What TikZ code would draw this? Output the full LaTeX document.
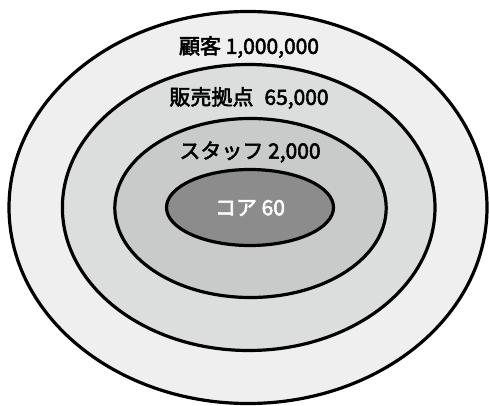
\documentclass[tikz,border=0pt]{standalone}
\usepackage{fontspec}
\setmainfont{Noto Sans CJK JP}
\newcommand{\heavytxt}[1]{\special{pdf:literal direct 2 Tr 0.55 w}#1\special{pdf:literal direct 0 Tr}}
\begin{document}
\begin{tikzpicture}[x=1pt,y=-1pt,
  ring/.style={draw=black,line width=3.2pt},
  lbl/.style={font=\fontsize{21}{25}\selectfont,inner sep=0pt}]
\useasboundingbox (0,0) rectangle (489,406);
\fill[white] (0,0) rectangle (489,406);
\path[ring,fill={rgb,255:red,239;green,239;blue,239}] (248,207.5) ellipse [x radius=239,y radius=196];
\path[ring,fill={rgb,255:red,220;green,221;blue,221}] (248.7,207.5) ellipse [x radius=186.3,y radius=143];
\path[ring,fill={rgb,255:red,201;green,202;blue,202}] (250.5,208) ellipse [x radius=135.7,y radius=89.5];
\path[ring,fill={rgb,255:red,140;green,140;blue,140}] (250,207.5) ellipse [x radius=83.5,y radius=38];
\node[lbl] (l1) at (249,47) {\heavytxt{顧客 1,000,000}};
\node[lbl] (l2) at (249,98) {\heavytxt{販売拠点\hspace{0.3em} 65,000}};
\node[lbl] (l3) at (250,152) {\heavytxt{スタッフ 2,000}};
\node[lbl,text=white] (l4) at (250,208) {\heavytxt{コア 60}};
\end{tikzpicture}
\end{document}
